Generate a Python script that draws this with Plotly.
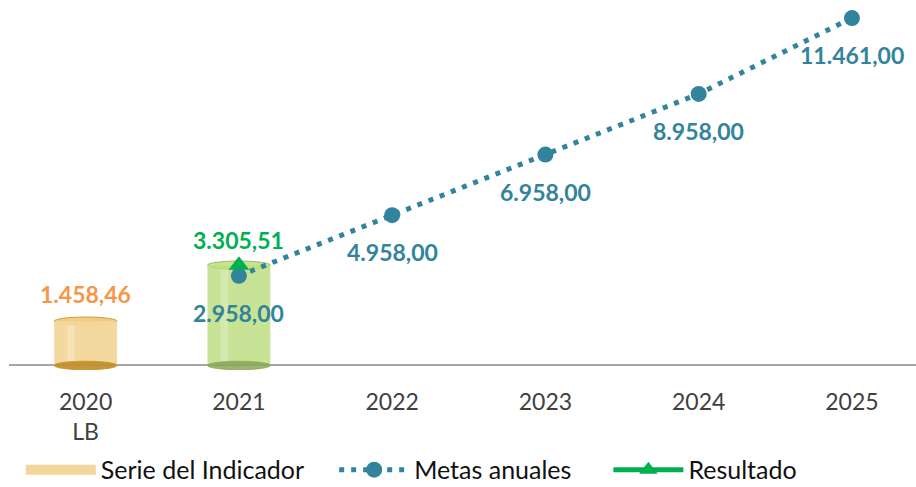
import plotly.graph_objects as go

categories = ["2020<br>LB", "2021", "2022", "2023", "2024", "2025"]
serie_vals = [1458.46, 3305.51]
serie_labels = ["1.458,46", None]
metas_vals = [None, 2958.00, 4958.00, 6958.00, 8958.00, 11461.00]
metas_labels = [None, "2.958,00", "4.958,00", "6.958,00", "8.958,00", "11.461,00"]
resultado_vals = [None, 3305.51]
resultado_labels = [None, "3.305,51"]

FONT = "Lato"
TEAL = "#31849B"
GREEN = "#00B050"
ORANGE = "#F79646"
bar_colors = ["rgba(242,214,154,0.95)", "rgba(190,222,130,0.85)"]
edge_colors = ["rgba(200,150,40,0.9)", "rgba(140,170,90,0.8)"]
bottom_fill = ["rgba(190,140,40,0.9)", "rgba(130,160,80,0.8)"]
top_fill = ["rgba(240,205,135,1)", "rgba(200,228,145,1)"]
PAD = "\u00a0" * 4

fig = go.Figure()

fig.add_trace(go.Bar(
    x=categories[:len(serie_vals)], y=serie_vals, width=0.41,
    marker=dict(color=bar_colors, line=dict(width=0)),
    name="Serie del Indicador", hoverinfo="skip", showlegend=False,
))
fig.add_trace(go.Scatter(
    x=[None], y=[None], mode="lines", name="Serie del Indicador" + PAD,
    line=dict(color="rgba(242,214,154,1)", width=16),
))

mx = [i for i, v in enumerate(metas_vals) if v is not None]
my = [v for v in metas_vals if v is not None]
fig.add_trace(go.Scatter(
    x=[categories[i] for i in mx], y=my, mode="lines+markers", name="Metas anuales" + PAD + "\u00a0",
    line=dict(color=TEAL, width=5, dash="5px,7px"),
    marker=dict(color=TEAL, size=16, symbol="circle"),
))

rx = [i for i, v in enumerate(resultado_vals) if v is not None]
ry = [v for v in resultado_vals if v is not None]
fig.add_trace(go.Scatter(
    x=[categories[i] for i in rx], y=ry, mode="lines+markers", name="Resultado",
    line=dict(color=GREEN, width=5),
    marker=dict(color=GREEN, size=18, symbol="triangle-up"),
))

eh = 140
for i, v in enumerate(serie_vals):
    fig.add_shape(type="circle", xref="x", yref="y", x0=i - 0.205, x1=i + 0.205,
                  y0=-eh, y1=eh, fillcolor=bottom_fill[i], line=dict(color=edge_colors[i], width=1), layer="above")
    fig.add_shape(type="circle", xref="x", yref="y", x0=i - 0.205, x1=i + 0.205,
                  y0=v - eh, y1=v + eh, fillcolor=top_fill[i], line=dict(color=edge_colors[i], width=1), layer="below")
    fig.add_shape(type="rect", xref="x", yref="y", x0=i - 0.12, x1=i - 0.07,
                  y0=eh, y1=v - eh, fillcolor="rgba(255,255,255,0.25)", line=dict(width=0), layer="above")

ann = []
for i, lab in enumerate(serie_labels):
    if lab:
        ann.append(dict(x=i, y=serie_vals[i], text=f"<b>{lab}</b>", yshift=27,
                        showarrow=False, font=dict(color=ORANGE, size=23, family=FONT)))
for i, lab in enumerate(resultado_labels):
    if lab:
        ann.append(dict(x=i, y=resultado_vals[i], text=f"<b>{lab}</b>", yshift=25,
                        showarrow=False, font=dict(color=GREEN, size=23, family=FONT)))
for i, lab in enumerate(metas_labels):
    if lab:
        ann.append(dict(x=i, y=metas_vals[i], text=f"<b>{lab}</b>", yshift=-37,
                        showarrow=False, font=dict(color=TEAL, size=23, family=FONT)))

fig.update_layout(
    width=916, height=487,
    margin=dict(l=9, r=0, t=0, b=117),
    paper_bgcolor="white", plot_bgcolor="white",
    font=dict(family=FONT, color="#404040"),
    showlegend=True,
    legend=dict(orientation="h", x=0.013, y=0.035, xref="paper", yref="container",
                xanchor="left", yanchor="middle",
                font=dict(size=25, color="#111111", family=FONT), itemwidth=70,
                traceorder="normal", tracegroupgap=0),
    annotations=ann,
)
fig.update_xaxes(type="category", categoryorder="array", categoryarray=categories,
                 range=[-0.5, 5.418], showgrid=False, showline=False, zeroline=False,
                 ticks="outside", ticklen=11, tickcolor="rgba(0,0,0,0)", automargin=False,
                 tickfont=dict(size=23, color="#404040", family=FONT))
fig.update_yaxes(range=[-150, 12056], showgrid=False, showticklabels=False, automargin=False,
                 zeroline=True, zerolinecolor="#A6A6A6", zerolinewidth=2, showline=False)

fig.write_html("out.html", config={"displayModeBar": False},
               post_script="document.body.style.margin='0';document.body.style.overflow='hidden';")
